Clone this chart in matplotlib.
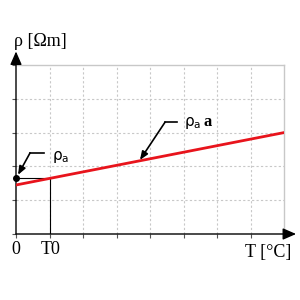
import matplotlib.pyplot as plt

# data (grid units)
line_x = [0, 8]
line_y = [1.45, 3.0]
rho_a = 1.66
t0 = 1.0
x_ticks = [0, 1, 2, 3, 4, 5, 6, 7, 8]
y_ticks = [0, 1, 2, 3, 4, 5]

plt.rcParams["font.family"] = ["Liberation Serif", "DejaVu Serif"]

fig = plt.figure(figsize=(3, 3), dpi=100)
ax = fig.add_axes([16 / 300, 66 / 300, 268 / 300, 169 / 300])
ax.set_xlim(0, 8)
ax.set_ylim(0, 5)

for x in x_ticks[1:-1]:
    ax.axvline(x, color="#c8c8c8", lw=0.8, ls=(0, (2, 2)), zorder=1)
for y in y_ticks[1:-1]:
    ax.axhline(y, color="#c8c8c8", lw=0.8, ls=(0, (2, 2)), zorder=1)

for side in ["top", "right"]:
    ax.spines[side].set_color("#c8c8c8")
    ax.spines[side].set_linewidth(1.0)
for side in ["left", "bottom"]:
    ax.spines[side].set_visible(False)

ax.set_xticks(x_ticks)
ax.set_yticks(y_ticks)
ax.tick_params(direction="out", length=3, width=0.8, color="#555555",
               labelbottom=False, labelleft=False)

# axes with arrow heads
ax.annotate("", xy=(8.36, 0), xytext=(0, 0), annotation_clip=False,
            arrowprops=dict(arrowstyle="-|>,head_length=0.8,head_width=0.35",
                            color="black", lw=1.0, shrinkA=0, shrinkB=0))
ax.annotate("", xy=(0, 5.4), xytext=(0, 0), annotation_clip=False,
            arrowprops=dict(arrowstyle="-|>,head_length=0.8,head_width=0.35",
                            color="black", lw=1.0, shrinkA=0, shrinkB=0))

ax.plot(line_x, line_y, color="#e8141c", lw=2.0, zorder=4)
ax.plot([0, t0], [rho_a, rho_a], color="black", lw=0.8, zorder=3)
ax.plot([t0, t0], [rho_a, 0], color="black", lw=0.8, zorder=3)
ax.plot([0], [rho_a], "o", color="black", ms=4, zorder=5, clip_on=False)

# annotations
ax.plot([0.42, 0.84], [2.4, 2.4], color="black", lw=1.2)
ax.annotate("", xy=(0.06, 1.75), xytext=(0.42, 2.4), annotation_clip=False,
            arrowprops=dict(arrowstyle="-|>,head_length=0.5,head_width=0.2",
                            color="black", lw=1.2, shrinkA=0, shrinkB=0))
ax.text(1.07, 2.28, r"$\mathregular{ρ_a}$", fontsize=11, va="center", ha="left",
        family=["DejaVu Sans"])

ax.plot([4.45, 4.8], [3.31, 3.31], color="black", lw=1.2)
ax.annotate("", xy=(3.7, 2.19), xytext=(4.45, 3.31), annotation_clip=False,
            arrowprops=dict(arrowstyle="-|>,head_length=0.5,head_width=0.2",
                            color="black", lw=1.2, shrinkA=0, shrinkB=0))
ax.text(5.0, 3.27, r"$\mathregular{ρ_a}$", fontsize=11, va="center", ha="left",
        family=["DejaVu Sans"])
ax.text(5.6, 3.32, "a", fontsize=12, fontweight="bold", va="center", ha="left")

# axis labels
fig.text(14 / 300, 1 - 42 / 300, "ρ [Ωm]", fontsize=13, va="center", ha="left")
fig.text(245 / 300, 1 - 252 / 300, "T [°C]", fontsize=13, va="center", ha="left")
fig.text(16 / 300, 1 - 249 / 300, "0", fontsize=13, va="center", ha="center")
fig.text(51 / 300, 1 - 249 / 300, "T0", fontsize=13, va="center", ha="center")

fig.savefig("out.png", dpi=100)
